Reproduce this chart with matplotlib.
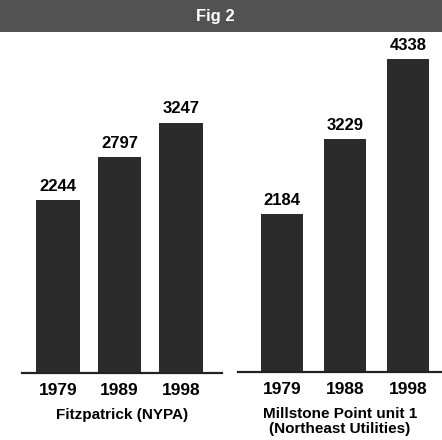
import matplotlib.pyplot as plt
from matplotlib.patches import Rectangle

# data
fitz_years = ["1979", "1989", "1998"]
fitz_values = [2244, 2797, 3247]
mill_years = ["1979", "1988", "1998"]
mill_values = [2184, 3229, 4338]

title = "Fig 2"
fitz_name = "Fitzpatrick (NYPA)"
mill_name = "Millstone Point unit 1\n(Northeast Utilities)"

W, H = 442, 440
bar_color = "#2b2b2b"

plt.rcParams["font.family"] = ["Liberation Sans", "DejaVu Sans"]
plt.rcParams["font.weight"] = "bold"

fig = plt.figure(figsize=(W / 100, H / 100), dpi=100)
fig.patch.set_facecolor("white")

# header band
fig.patches.append(Rectangle((0, 1 - 32 / H), 1, 32 / H, transform=fig.transFigure,
                             facecolor="#525252", edgecolor="none", zorder=0))
fig.text(215 / W, 1 - 17 / H, title, color="white", fontsize=12, fontweight="heavy",
         ha="center", va="center")


def panel(left_px, right_px, base_px, xlim, width, scale, years, values, name):
    top_px = 40
    ax = fig.add_axes([left_px / W, 1 - base_px / H, (right_px - left_px) / W,
                       (base_px - top_px) / H])
    ax.bar(range(len(values)), values, width=width, color=bar_color, zorder=2)
    for i, v in enumerate(values):
        ax.annotate(str(v), (i, v), xytext=(0, 4.5), textcoords="offset points",
                    ha="center", va="bottom", fontsize=12, fontweight="bold")
    ax.set_xlim(*xlim)
    ax.set_ylim(0, (base_px - top_px) / scale)
    ax.set_xticks(range(len(years)))
    ax.set_xticklabels(years, fontsize=12.5, fontweight="bold")
    ax.tick_params(axis="x", length=0, pad=7.5)
    ax.set_yticks([])
    for s in ["top", "right", "left"]:
        ax.spines[s].set_visible(False)
    ax.spines["bottom"].set_linewidth(1.6)
    ax.spines["bottom"].set_color("#222222")
    ax.set_xlabel(name, fontsize=11, fontweight="bold", labelpad=7, linespacing=1.1)
    ax.patch.set_alpha(0)
    return ax


panel(22, 222, 373, (-0.585, 2.67), 0.71, 0.0771, fitz_years, fitz_values, fitz_name)
panel(238, 442, 372, (-0.70, 2.54), 0.68, 0.0722, mill_years, mill_values, mill_name)

fig.savefig("out.png", dpi=100)
